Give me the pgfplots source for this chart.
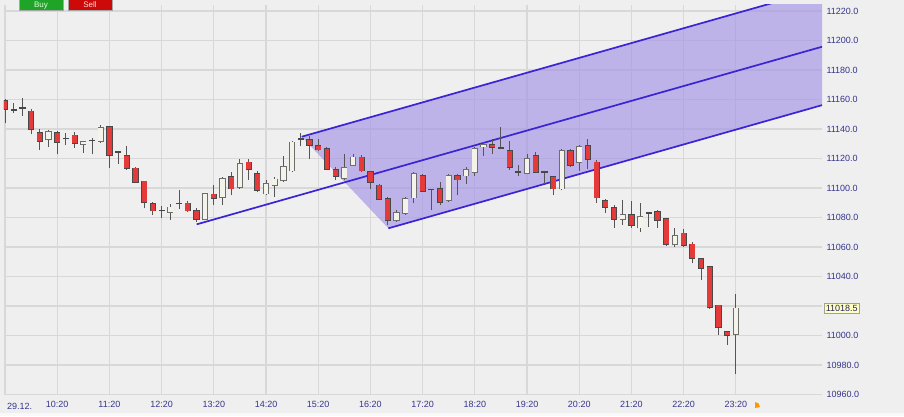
\documentclass[border=0pt]{standalone}
\usepackage{pgfplots}
\pgfplotsset{compat=1.18}
\usepackage{pgfplotstable}
\usepackage{fontspec}
\setmainfont{Liberation Sans}
\definecolor{bg}{RGB}{239,239,239}
\definecolor{gridc}{RGB}{216,216,216}
\definecolor{lab}{RGB}{52,52,140}
\definecolor{chanline}{RGB}{58,36,212}
\definecolor{chanfill}{RGB}{165,148,230}
\definecolor{candred}{RGB}{228,58,58}
\definecolor{candwhite}{RGB}{243,243,234}
\definecolor{edge}{RGB}{72,72,72}
\definecolor{wick}{RGB}{85,85,85}
\definecolor{btngreen}{RGB}{30,165,40}
\definecolor{btnred}{RGB}{205,10,10}
\definecolor{yel}{RGB}{255,255,195}

% bearish candles (and dojis): index, open, high, low, close
\pgfplotstableread{
x o h l c
0 11158.9 11160.4 11143.8 11153.7
1 11153.0 11157.8 11150.6 11153.0
2 11154.4 11161.0 11149.0 11154.4
3 11152.1 11153.7 11136.4 11139.8
4 11137.5 11139.8 11125.8 11131.9
6 11137.5 11138.7 11122.9 11131.2
7 11133.5 11137.1 11129.0 11133.5
8 11135.7 11138.0 11127.4 11130.3
10 11132.4 11134.2 11122.9 11132.4
12 11141.3 11142.0 11113.3 11122.2
13 11124.5 11125.0 11116.2 11124.5
14 11121.8 11128.5 11112.4 11113.3
15 11113.3 11114.0 11103.4 11103.8
16 11104.5 11105.0 11086.3 11090.3
17 11089.2 11090.3 11081.6 11084.7
18 11084.7 11088.0 11080.0 11084.7
20 11089.6 11098.6 11086.0 11089.6
21 11089.7 11091.5 11083.6 11084.7
22 11084.7 11086.3 11076.9 11079.1
24 11095.7 11102.2 11088.3 11093.3
26 11107.4 11110.8 11095.1 11099.6
28 11117.5 11119.8 11105.2 11112.6
29 11109.7 11111.9 11097.3 11098.4
34 11133.3 11137.3 11128.3 11133.3
35 11132.8 11135.5 11119.8 11129.2
36 11128.8 11133.3 11125.4 11126.1
37 11126.5 11127.6 11112.6 11113.0
38 11112.4 11114.2 11105.2 11107.9
41 11120.9 11122.5 11110.8 11111.9
42 11110.8 11111.9 11099.6 11104.0
43 11101.8 11102.9 11091.7 11092.4
44 11092.8 11093.9 11074.8 11078.2
48 11108.5 11109.7 11097.3 11098.0
49 11098.9 11099.5 11085.0 11098.9
50 11099.6 11104.0 11088.3 11090.6
52 11108.5 11109.7 11095.1 11105.6
56 11129.4 11133.3 11123.1 11127.6
57 11127.2 11141.1 11126.5 11127.2
58 11125.4 11132.1 11112.4 11114.2
59 11110.8 11115.3 11108.5 11110.8
61 11122.0 11124.3 11110.1 11110.8
62 11110.8 11111.0 11102.9 11110.8
63 11107.4 11108.5 11095.1 11099.6
65 11125.4 11126.5 11114.2 11115.3
67 11128.8 11133.3 11113.0 11119.8
68 11117.5 11118.7 11089.9 11093.5
69 11091.4 11092.4 11082.8 11087.1
70 11086.4 11088.2 11073.2 11079.1
72 11081.8 11091.4 11073.2 11075.0
74 11083.0 11083.5 11073.9 11083.0
75 11084.1 11085.2 11072.7 11078.4
76 11079.1 11080.0 11060.9 11061.8
78 11069.3 11072.3 11060.2 11061.4
79 11061.8 11063.2 11048.9 11052.7
80 11051.8 11052.7 11037.5 11045.5
81 11046.6 11047.3 11018.2 11019.3
82 11020.5 11020.9 11000.5 11005.7
83 11002.7 11003.4 10993.6 11000.5
}\bear

% bullish candles: index, open, high, low, close
\pgfplotstableread{
x o h l c
5 11133.0 11139.3 11127.9 11138.0
9 11129.7 11131.2 11124.0 11131.2
11 11131.9 11142.7 11130.8 11140.9
19 11083.6 11089.2 11078.5 11087.0
23 11079.0 11096.4 11078.8 11096.0
25 11093.9 11107.4 11088.3 11106.3
27 11100.7 11119.8 11099.6 11116.4
30 11096.2 11105.2 11095.1 11102.9
31 11102.2 11107.4 11093.9 11105.8
32 11105.2 11121.6 11104.0 11114.2
33 11111.9 11132.1 11110.8 11131.0
39 11106.7 11123.1 11105.2 11113.5
40 11115.7 11123.1 11114.8 11120.9
45 11078.2 11084.9 11077.1 11083.4
46 11083.0 11093.9 11082.0 11092.6
47 11093.5 11110.8 11089.9 11109.7
51 11091.7 11109.7 11090.6 11108.5
53 11108.5 11114.2 11102.9 11112.4
54 11110.8 11127.6 11108.5 11126.5
55 11128.1 11131.0 11122.0 11129.4
60 11110.1 11123.1 11109.2 11119.8
64 11099.6 11126.5 11098.4 11125.4
66 11117.5 11129.4 11111.9 11128.1
71 11078.9 11092.0 11075.0 11081.8
73 11073.2 11089.8 11070.5 11080.7
77 11061.8 11073.2 11060.2 11067.7
84 11001.1 11028.4 10973.9 11018.5
}\bull

\newcommand{\lblfont}{\fontsize{9}{10.5}\selectfont}
\newcommand{\btnfont}{\fontsize{8}{9.5}\selectfont}

\begin{document}
\begin{tikzpicture}
\path[use as bounding box, fill=bg] (0pt,0pt) rectangle (904pt,416pt);
\clip (0pt,0pt) rectangle (904pt,416pt);
\fill[white!60!bg] (0pt,0pt) rectangle (904pt,3pt);

\begin{axis}[
  at={(4pt,21pt)}, anchor=south west,
  scale only axis, width=818pt, height=390pt,
  xmin=-0.115, xmax=93.9, ymin=10959.7, ymax=11224.1,
  axis line style={draw=none},
  tick style={draw=none},
  major tick length=0pt,
  axis background/.style={fill=bg},
  grid=major,
  grid style={draw=gridc, line width=1.2pt},
  xtick={0,6,...,84},
  xticklabels={{},10:20,11:20,12:20,13:20,14:20,15:20,16:20,17:20,18:20,19:20,20:20,21:20,22:20,23:20},
  ytick={10960,10980,...,11220},
  yticklabels={10960.0,10980.0,11000.0,{},11040.0,11060.0,11080.0,11100.0,11120.0,11140.0,11160.0,11180.0,11200.0,11220.0},
  yticklabel pos=right,
  ticklabel style={font=\lblfont, text=lab},
  xticklabel style={yshift=-3pt},
  yticklabel style={xshift=1pt},
]
% regression channel fill
\addplot[draw=none, fill=chanfill, fill opacity=0.65] coordinates {
  (34.1,11134.8) (93.9,11235.0) (93.9,11156.2) (44.06,11072.7) (34.1,11134.8)};
% channel lines
\addplot[chanline, line width=1.7pt] coordinates {(22.03,11075.4) (93.9,11195.8)};
\addplot[chanline, line width=1.7pt] coordinates {(34.1,11134.8) (93.9,11235.0)};
\addplot[chanline, line width=1.7pt] coordinates {(44.06,11072.7) (93.9,11156.2)};

% wicks
\addplot[wick, line width=1pt, quiver={u=0, v=\thisrow{h}-\thisrow{l}}] table[x=x, y=l] {\bear};
\addplot[wick, line width=1pt, quiver={u=0, v=\thisrow{h}-\thisrow{l}}] table[x=x, y=l] {\bull};
% bodies: outline then fill
\addplot[edge, line width=6.2pt, quiver={u=0, v=abs(\thisrow{c}-\thisrow{o})+0.95}] table[x=x, y expr={min(\thisrow{o},\thisrow{c})-0.475}] {\bear};
\addplot[edge!80, line width=6.2pt, quiver={u=0, v=abs(\thisrow{c}-\thisrow{o})+0.95}] table[x=x, y expr={min(\thisrow{o},\thisrow{c})-0.475}] {\bull};
\addplot[candred, line width=4.7pt, quiver={u=0, v=abs(\thisrow{c}-\thisrow{o})}] table[x=x, y expr={min(\thisrow{o},\thisrow{c})}] {\bear};
\addplot[candwhite, line width=4.7pt, quiver={u=0, v=abs(\thisrow{c}-\thisrow{o})}] table[x=x, y expr={min(\thisrow{o},\thisrow{c})}] {\bull};

\coordinate (cur) at (axis cs:93.9,11018.5);
\coordinate (d0) at (axis cs:0,10959.7);
\end{axis}

% Buy / Sell buttons at the top edge
\fill[btngreen] (19pt,405.5pt) rectangle (63pt,420pt);
\draw[gray!70, line width=0.6pt] (19pt,405.5pt) rectangle (63pt,420pt);
\node[anchor=base, inner sep=0pt, text=white!85!green, font=\btnfont] at (41pt,408pt) {Buy};
\fill[btnred] (68pt,405.5pt) rectangle (112pt,420pt);
\draw[gray!70, line width=0.6pt] (68pt,405.5pt) rectangle (112pt,420pt);
\node[anchor=base, inner sep=0pt, text=white!85!red, font=\btnfont] at (90pt,408pt) {Sell};

\node[anchor=west, fill=yel, draw=gray!80!yellow, line width=0.5pt, inner xsep=2pt, inner ysep=1.5pt, font=\lblfont, text=lab!70!black] at ([xshift=1.5pt]cur) {11018.5};
\node[anchor=north west, inner sep=0pt, font=\lblfont, text=lab] at ([xshift=2pt,yshift=-8.5pt]d0) {29.12.};
% small marker near last label
\fill[orange!80!yellow] (755pt,8pt) -- (755pt,14pt) arc[start angle=90, end angle=0, radius=5pt] -- cycle;
\end{tikzpicture}
\end{document}
